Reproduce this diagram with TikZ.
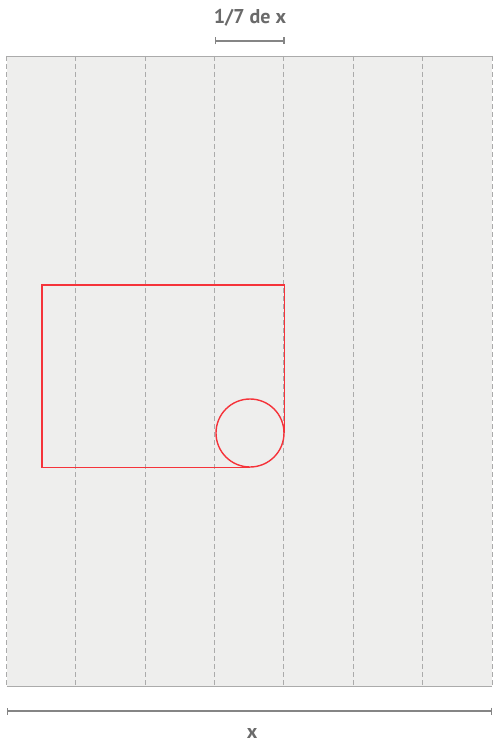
\documentclass[tikz,border=0pt]{standalone}
\usepackage{fontspec}
\setmainfont{PT Sans}
\usetikzlibrary{positioning,arrows.meta,calc}
\definecolor{panelbg}{HTML}{EEEEED}
\definecolor{panelline}{HTML}{ABABAB}
\definecolor{dimgray}{HTML}{858585}
\definecolor{labelgray}{HTML}{6A6A6A}
\definecolor{markred}{HTML}{F5333A}
\tikzset{
  pxgrid/.style={x=1pt,y=-1pt},
  col/.style={draw=panelline,dashed,dash pattern=on 5pt off 3pt,line width=0.9pt},
  dim/.style={draw=dimgray,line width=1.6pt,{Bar[width=7pt,line width=1.3pt]}-{Bar[width=7pt,line width=1.3pt]}},
  dimlabel/.style={text=labelgray,font=\fontsize{20}{24}\selectfont\bfseries,inner sep=0pt},
  redline/.style={draw=markred,line width=1.4pt},
}
\begin{document}
\begin{tikzpicture}[pxgrid]
  \useasboundingbox (0,0) rectangle (493,749);
  % panel
  \coordinate (tl) at (6.5,56);
  \coordinate (br) at (492,686);
  \fill[panelbg] (tl) rectangle (br);
  \draw[panelline,line width=0.9pt] (tl) -- (br |- tl);
  \draw[panelline,line width=0.9pt] (tl |- br) -- (br);
  \foreach \i in {0,...,7}
    \draw[col] ($(tl)+(\i*69.36,0)$) -- ($(tl |- br)+(\i*69.36,0)$);
  % one column
  \coordinate (da) at (215,41);
  \coordinate (db) at (284.5,41);
  \draw[dim] (da) -- (db);
  \node[dimlabel] (seventh) at (250,18) {1/7 de x};
  % whole width
  \coordinate (wa) at (6.5,711);
  \coordinate (wb) at (492,711);
  \draw[dim] (wa) -- (wb);
  \node[dimlabel] (whole) at (252,733) {x};
  % frame with circle
  \node[redline,circle,minimum size=68pt,inner sep=0pt] (ring) at (250,433) {};
  \coordinate (lf) at (42,285);
  \draw[redline] (ring.south) -- (ring.south -| lf) -- (lf) -- (lf -| ring.east) -- (ring.east);
\end{tikzpicture}
\end{document}
